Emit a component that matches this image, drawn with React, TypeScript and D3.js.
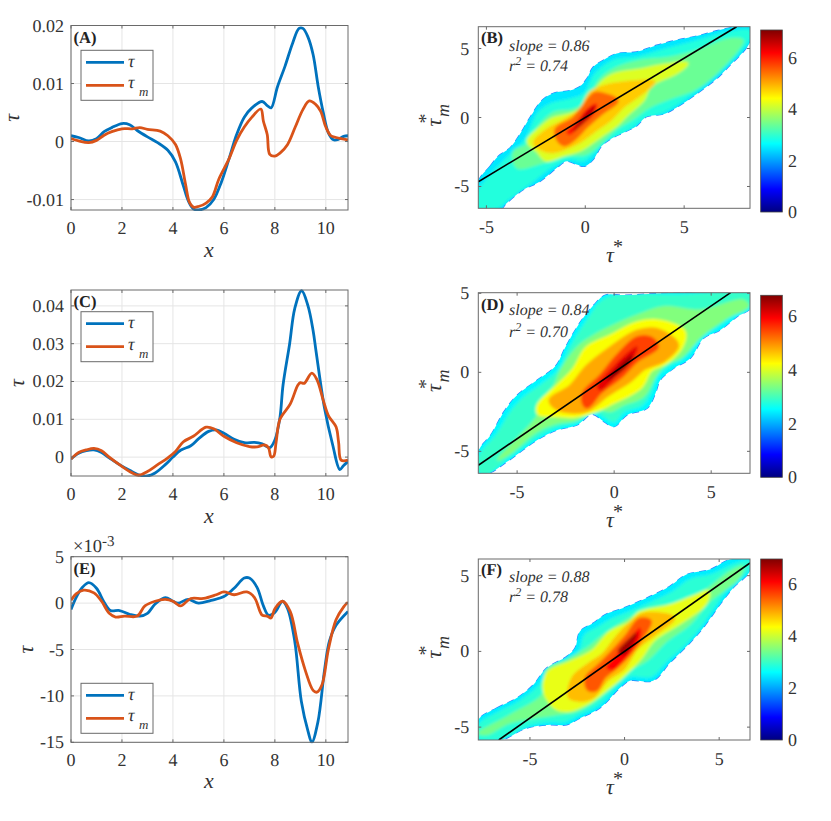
import React from "react";
import * as d3 from "d3";

type Pt = [number, number];

// line panels, values
const tauA: Pt[] = [[0,.001],[.3,.0007],[.7,.0001],[1,.0005],[1.3,.0017],[1.6,.0024],[2,.0031],[2.3,.0029],[2.6,.0019],[3,.0008],[3.4,-.0002],[3.8,-.0015],[4.1,-.0035],[4.4,-.0075],[4.6,-.0102],[4.8,-.0116],[5,-.0118],[5.3,-.0114],[5.6,-.01],[5.9,-.007],[6.2,-.003],[6.5,.0012],[6.8,.0042],[7.1,.0058],[7.5,.0069],[7.7,.0062],[7.85,.0058],[8.1,.0094],[8.4,.013],[8.7,.017],[8.95,.0195],[9.1,.0195],[9.3,.018],[9.5,.015],[9.7,.0095],[9.9,.005],[10.1,.0015],[10.3,.0003],[10.5,.0004],[10.7,.0009],[10.87,.001]];
const tauMA: Pt[] = [[0,.0005],[.3,.0001],[.7,-.0002],[1,.0002],[1.3,.0011],[1.6,.0017],[2,.0022],[2.4,.0022],[2.7,.0024],[3,.0021],[3.5,.0018],[3.8,.001],[4.1,-.0005],[4.3,-.003],[4.5,-.0075],[4.65,-.0105],[4.8,-.0113],[5,-.0112],[5.3,-.0106],[5.55,-.0095],[5.8,-.0065],[6.2,-.003],[6.5,.0002],[6.8,.0025],[7.1,.0042],[7.45,.0056],[7.55,.0035],[7.7,.0012],[7.8,-.0022],[8,-.0025],[8.2,-.002],[8.5,-.0005],[8.8,.0025],[9.1,.0055],[9.35,.007],[9.6,.0064],[9.8,.0052],[10,.0025],[10.2,.001],[10.4,.0007],[10.6,.0005],[10.87,.0003]];
const tauC: Pt[] = [[0,-.0005],[.3,.001],[.6,.0017],[.9,.0019],[1.2,.0012],[1.5,-.0002],[1.9,-.002],[2.3,-.0035],[2.7,-.0048],[3,-.005],[3.3,-.0042],[3.7,-.002],[4,0],[4.3,.0018],[4.7,.003],[5,.0048],[5.4,.0068],[5.7,.0072],[6,.0063],[6.4,.0047],[6.8,.0038],[7.2,.0039],[7.5,.0035],[7.8,.0025],[8,.0045],[8.2,.0105],[8.32,.019],[8.58,.03],[8.78,.0393],[9.05,.044],[9.3,.04],[9.5,.0335],[9.62,.0278],[9.95,.0129],[10.27,.0032],[10.55,-.0033],[10.7,-.0022],[10.87,-.0012]];
const tauMC: Pt[] = [[0,-.0005],[.3,.0012],[.6,.0019],[.9,.0023],[1.2,.0017],[1.5,0],[1.9,-.002],[2.3,-.0038],[2.65,-.0048],[3,-.0038],[3.4,-.002],[3.8,-.0002],[4.1,.0015],[4.4,.004],[4.8,.0055],[5.3,.0079],[5.6,.0075],[6,.0055],[6.5,.0038],[7,.0028],[7.3,.0027],[7.6,.0032],[7.75,.0025],[7.85,.0001],[7.95,.0002],[8.05,.004],[8.2,.01],[8.6,.014],[8.9,.019],[9,.0197],[9.15,.0195],[9.45,.0222],[9.65,.0205],[9.9,.015],[10.1,.011],[10.4,.008],[10.5,.004],[10.6,-.0008],[10.87,-.0008]];
const tauE: Pt[] = [[0,-.7],[.2,.6],[.45,1.7],[.7,2.2],[1,1.6],[1.3,.1],[1.55,-.8],[1.9,-.8],[2.3,-1.2],[2.7,-1.4],[3,-1.1],[3.3,-.1],[3.7,.6],[4,.2],[4.2,0],[4.6,.4],[5,0],[5.5,.3],[6,.7],[6.4,1.6],[6.8,2.7],[7,2.7],[7.3,1.7],[7.55,-.3],[7.75,-1.3],[8,-1],[8.3,.2],[8.5,-.6],[8.78,-4.1],[9.04,-10.6],[9.3,-13.8],[9.45,-15],[9.69,-12.8],[9.95,-7.2],[10.14,-4.1],[10.4,-2.4],[10.87,-.9]];
const tauME: Pt[] = [[0,.3],[.2,1],[.5,1.4],[.9,1.1],[1.2,.2],[1.5,-1.1],[1.75,-1.5],[2.1,-1.4],[2.6,-1.4],[2.9,-.3],[3.3,.2],[3.7,.4],[4,.2],[4.3,-.3],[4.7,.5],[5.2,.5],[5.7,.9],[6,1.2],[6.4,.9],[6.9,1.2],[7.2,.6],[7.5,-1.3],[7.7,-1.4],[7.85,-1.6],[8,-.6],[8.3,.2],[8.6,-.9],[8.9,-4.4],[9.2,-7.3],[9.5,-9.4],[9.65,-9.6],[9.85,-8.8],[10.1,-5],[10.4,-1.8],[10.7,-.4],[10.87,.1]];

const xTicks = [0, 2, 4, 6, 8, 10];
const yTicksA = [0.02, 0.01, 0, -0.01];
const yLabelsA = ["0.02", "0.01", "0", "-0.01"];
const yTicksC = [0.04, 0.03, 0.02, 0.01, 0];
const yLabelsC = ["0.04", "0.03", "0.02", "0.01", "0"];
const yTicksE = [5, 0, -5, -10, -15];
const yLabelsE = ["5", "0", "-5", "-10", "-15"];

// density panels: level outlines, lowest level first
const levels = [2.5, 2.9, 3.4, 4.2, 4.8, 5.5, 6.1, 6.7];

const contoursB: Pt[][] = [
  [[-5.41,-4.63],[-4.82,-3.54],[-4.4,-2.8],[-3.81,-2.2],[-3.31,-1.22],[-2.8,0],[-2.21,1.22],[-1.62,1.76],[-.78,1.95],[-.27,2.24],[.07,2.8],[.4,3.66],[.91,4.15],[1.59,4.63],[2.6,4.76],[3.61,5.24],[4.62,5.61],[5.63,5.9],[6.64,6.29],[7.66,6.59],[8.33,6.59],[8.33,5.49],[7.99,4.76],[7.32,3.78],[6.64,2.8],[5.63,1.71],[4.62,.73],[3.95,.24],[3.1,.05],[2.6,-.61],[1.92,-1.1],[1.25,-1.59],[.83,-2.07],[.4,-3.05],[-.02,-3.54],[-.44,-3.41],[-.94,-3.17],[-1.45,-3.66],[-2.29,-4.63],[-3.14,-5.24],[-3.98,-6.22],[-4.32,-6.7],[-5.41,-6.7]],
  [[-5.41,-5.37],[-4.65,-3.9],[-3.81,-2.68],[-3.05,-1.59],[-2.38,.37],[-1.79,.98],[-.78,1.34],[-.1,1.71],[.49,3.17],[1.42,4.15],[2.6,4.39],[3.95,4.93],[5.63,5.56],[7.32,6.22],[8.33,6.29],[8.33,5.73],[7.32,4.02],[6.31,2.68],[5.3,1.59],[4.11,.49],[2.93,-.12],[2.09,-.98],[1.08,-1.71],[.57,-2.44],[-.1,-3.17],[-.78,-3.05],[-1.62,-3.54],[-2.63,-4.63],[-3.81,-5.85],[-4.49,-6.59],[-5.41,-6.59]],
  [[-3.47,-3.66],[-3.64,-2.44],[-2.97,-1.95],[-2.38,-.61],[-1.62,.37],[-.61,.61],[.15,1.22],[.66,2.68],[1.42,3.54],[2.77,4.15],[4.28,4.39],[5.63,4.88],[7.32,5.73],[7.99,5.61],[6.81,3.41],[5.63,2.07],[4.28,1.34],[3.27,.73],[2.43,-.12],[1.59,-.85],[.83,-1.83],[.07,-2.68],[-.94,-2.8],[-2.12,-3.29]],
  [[-1.96,-3.05],[-2.38,-2.44],[-2.88,-1.71],[-2.21,-.73],[-1.62,-.12],[-.61,.24],[.24,.98],[.74,2.32],[1.42,3.05],[2.77,3.41],[4.11,3.78],[5.13,3.9],[4.62,3.29],[3.27,2.32],[2.93,1.34],[2.09,.24],[1.59,-.49],[.74,-1.34],[-.27,-2.32],[-1.11,-2.68]],
  [[-2.55,-1.83],[-1.96,-.98],[-1.03,-.24],[-.27,.49],[.32,1.83],[1.25,2.32],[2.6,2.56],[3.44,2.56],[2.77,1.71],[1.92,.85],[1.25,-.12],[.4,-.98],[-.44,-1.83],[-1.62,-2.44],[-2.12,-2.32]],
  [[-1.37,-1.59],[-1.45,-.85],[-.61,-.12],[-.1,.73],[.49,1.71],[1.08,1.59],[1.59,1.22],[.74,.24],[.07,-.61],[-.61,-1.59],[-1.03,-1.95]],
  [[-.94,-1.1],[-.44,-.37],[.07,.61],[.57,.98],[.4,.24],[-.27,-.61],[-.78,-1.22]],
  [[-.61,-.98],[-.02,.24],[.49,.85],[.24,.12],[-.35,-.73]],
];

const contoursD: Pt[][] = [
  [[-6.96,-4.92],[-6.36,-3.97],[-5.68,-2.49],[-4.99,-1.43],[-3.96,-.49],[-3.02,.4],[-2.5,1.62],[-1.73,3.21],[-1.05,4.26],[-.45,4.89],[.5,4.89],[3.24,5.04],[7.02,5.04],[7.02,4.05],[6.33,3.52],[5.47,2.68],[4.61,2.15],[3.93,.89],[3.07,.25],[2.38,-.49],[2.13,-1.33],[1.7,-2.28],[.67,-2.7],[0,-3.44],[-.53,-3.12],[-1.13,-2.66],[-1.9,-3.33],[-2.93,-3.65],[-3.96,-4.28],[-5.51,-5.65],[-6.45,-6.39],[-6.96,-6.39]],
  [[-6.96,-5.34],[-6.02,-3.86],[-5.33,-2.49],[-4.73,-1.65],[-3.79,-.8],[-2.85,.15],[-2.25,1.62],[-1.39,3.31],[-.7,4.47],[-.19,4.79],[3.24,4.89],[7.02,4.89],[7.02,4.26],[6.16,3.63],[5.3,2.89],[4.44,2.26],[3.67,.99],[2.9,.46],[2.21,-.27],[1.87,-1.33],[1.44,-2.07],[.5,-2.49],[0,-3.12],[-1.05,-2.49],[-1.9,-3.12],[-2.93,-3.44],[-3.96,-4.07],[-5.51,-5.44],[-6.51,-6.39],[-6.96,-6.29]],
  [[-6.02,-5.55],[-3.96,-2.7],[-3.88,-2.07],[-3.1,-.8],[-2.76,.15],[-1.9,1.62],[-1.05,2.36],[.15,3.1],[1.18,3.63],[2.56,4.16],[4.44,3.95],[6.67,4.58],[6.93,4.16],[5.81,3.42],[4.61,2.36],[3.41,.89],[2.73,.57],[2.13,-.27],[1.53,-1.54],[.5,-2.07],[-.19,-2.49],[-1.05,-2.28],[-1.9,-3.02],[-2.93,-3.23],[-3.96,-3.76],[-5.33,-5.13]],
  [[-3.88,-2.59],[-3.88,-2.07],[-2.93,-.91],[-2.08,.15],[-1.39,1.52],[-.19,2.26],[1.18,3.1],[2.38,3.21],[3.58,2.57],[3.5,1.73],[2.73,.68],[1.87,.15],[1.36,-.91],[-.19,-1.96],[-1.13,-2.49],[-2.08,-2.76],[-3.1,-2.7]],
  [[-3.28,-1.75],[-2.25,-.91],[-1.39,.36],[-.19,1.52],[1.18,2.57],[2.21,2.68],[3.24,1.73],[2.56,.78],[1.53,.25],[.84,-.49],[-.36,-1.43],[-1.39,-2.38],[-2.08,-2.49],[-2.93,-2.28]],
  [[-1.56,-1.96],[-1.56,-1.33],[-.7,-.27],[.15,.99],[1.18,2.15],[1.87,2.15],[2.21,1.62],[1.18,.78],[.33,-.27],[-.7,-1.22],[-1.39,-2.17]],
  [[-.87,-.91],[-.19,.15],[.67,1.2],[1.18,1.62],[.93,.78],[.15,-.17],[-.7,-1.12]],
  [[-.36,-.49],[.33,.46],[.93,1.1],[.67,.46],[-.02,-.27]],
];

const contoursF: Pt[][] = [
  [[-7.73,-4.52],[-6.76,-3.74],[-5.7,-3.08],[-4.82,-2.2],[-4.12,-1.1],[-3.06,-.33],[-2.62,.22],[-2.36,1.32],[-1.65,1.87],[-1.04,2.42],[-.07,2.86],[1.34,3.63],[2.39,4.3],[3.27,5.07],[4.51,5.4],[5.56,6.06],[6.62,6.12],[6.62,5.29],[5.74,4.19],[5.04,3.08],[4.15,1.54],[3.45,.55],[2.39,-.77],[1.51,-1.94],[.28,-1.94],[-.25,-2.42],[-1.3,-3.74],[-2.36,-4.41],[-3.06,-4.85],[-3.94,-4.85],[-5.18,-5.07],[-6.5,-5.84],[-7.73,-5.84]],
  [[-7.73,-4.85],[-6.76,-4.07],[-5.7,-3.41],[-4.65,-2.42],[-3.94,-1.32],[-2.89,-.55],[-2.36,.11],[-2.1,1.1],[-1.48,1.54],[-.77,2.09],[.11,2.53],[1.51,3.3],[2.57,3.96],[3.45,4.74],[4.6,5.07],[5.74,5.73],[6.62,5.95],[6.62,5.51],[5.48,4.19],[4.77,2.97],[3.89,1.43],[3.19,.44],[2.22,-.66],[1.43,-1.65],[.28,-1.65],[-.33,-2.2],[-1.39,-3.52],[-2.45,-4.19],[-3.15,-4.63],[-3.94,-4.63],[-5.26,-4.96],[-6.41,-5.73],[-7.73,-5.73]],
  [[-7.73,-5.4],[-6.06,-4.19],[-4.3,-2.75],[-4.12,-1.21],[-3.06,-.55],[-2.01,.22],[-1.13,1.1],[.11,2.09],[1.34,2.86],[2.75,3.19],[4.15,3.96],[5.56,5.29],[6.27,5.62],[6.09,4.85],[4.51,3.3],[3.45,1.76],[2.22,.66],[1.25,-.55],[.19,-1.32],[-.42,-1.98],[-1.48,-3.19],[-2.54,-3.96],[-3.59,-4.19],[-6.06,-4.74],[-7.29,-5.51]],
  [[-3.59,-3.74],[-4.21,-2.64],[-4.03,-1.43],[-2.89,-.77],[-1.65,0],[-.77,1.21],[.28,1.87],[.81,2.53],[2.2,2.9],[3.6,3.55],[4.4,3.9],[4.2,3.1],[2.9,1.9],[1.51,.77],[.81,-.44],[-.25,-1.76],[-1.13,-2.64],[-2.01,-3.41],[-2.89,-3.85]],
  [[-2.9,-3],[-2.7,-1.75],[-1.9,-.9],[-1.1,-.2],[-.42,.88],[.46,1.98],[.99,2.42],[2.04,2.42],[2.57,2.2],[1.51,1.1],[.63,.22],[-.07,-1.1],[-.95,-1.87],[-1.7,-3],[-2.4,-3.2]],
  [[-1.9,-2.5],[-2.0,-1.75],[-1.3,-.9],[-.6,0],[.11,.99],[.81,2.09],[1.34,1.98],[.99,1.1],[.28,-.11],[-.42,-.99],[-1.1,-1.7],[-1.5,-2.5]],
  [[-.95,-1.1],[-.33,-.11],[.19,.66],[.81,1.54],[.81,.88],[.28,-.11],[-.07,-.66],[-.6,-1.21]],
  [[-.33,0],[.19,.77],[.63,1.21],[.46,.55],[-.07,-.22]],
];

const densityTicks = [-5, 0, 5];
const colorTicks = [0, 2, 4, 6];

const serif = "Liberation Serif, serif";
const textColor = "#333";
const boxColor = "#6a6a6a";

// MATLAB jet
const jetStops = [0, 0.125, 0.375, 0.625, 0.875, 1];
const jetColors = ["#000080", "#0000ff", "#00ffff", "#ffff00", "#ff0000", "#800000"];
const jet = (cmax: number) =>
  d3.scaleLinear<string>().domain(jetStops.map((s) => s * cmax)).range(jetColors).clamp(true);

const Tau = ({ x, y, size = 22, rotate = 0 }: any) => (
  <text transform={`translate(${x},${y}) rotate(${rotate})`} fontFamily={serif} fontStyle="italic" fontSize={size} fill={textColor} textAnchor="middle">τ</text>
);

interface LineProps {
  label: string; tau: Pt[]; tauM: Pt[];
  yDomain: [number, number]; top: number; bottom: number;
  yTicks: number[]; yLabels: string[];
  legendY: number; ylabelX: number; labelDy: number; xlabelY: number;
}

const LinePanel = ({ label, tau, tauM, yDomain, top, bottom, yTicks, yLabels, legendY, ylabelX, labelDy, xlabelY }: LineProps) => {
  const left = 71, right = 348;
  const x = d3.scaleLinear().domain([0, 10.87]).range([left, right]);
  const y = d3.scaleLinear().domain(yDomain).range([bottom, top]);
  const line = d3.line<Pt>().x((d) => x(d[0])).y((d) => y(d[1])).curve(d3.curveCatmullRom.alpha(0.5));
  const clip = `clip-${label}`;
  const mid = (top + bottom) / 2;
  return (
    <g>
      <clipPath id={clip}><rect x={left} y={top - 1} width={right - left} height={bottom - top + 2} /></clipPath>
      {xTicks.map((t) => <line key={t} x1={x(t)} x2={x(t)} y1={top} y2={bottom} stroke="#e5e5e5" />)}
      {yTicks.map((t) => <line key={t} x1={left} x2={right} y1={y(t)} y2={y(t)} stroke="#e5e5e5" />)}
      <g clipPath={`url(#${clip})`}>
        <path d={line(tau) || ""} fill="none" stroke="#0072bd" strokeWidth={2.8} />
        <path d={line(tauM) || ""} fill="none" stroke="#d95319" strokeWidth={2.8} />
      </g>
      <rect x={left} y={top} width={right - left} height={bottom - top} fill="none" stroke={boxColor} strokeWidth={1} />
      {xTicks.map((t) => (
        <g key={t}>
          <line x1={x(t)} x2={x(t)} y1={bottom} y2={bottom - 3} stroke={boxColor} />
          <line x1={x(t)} x2={x(t)} y1={top} y2={top + 3} stroke={boxColor} />
          <text x={x(t)} y={bottom + 24} textAnchor="middle" fontFamily={serif} fontSize={18} fill={textColor}>{t}</text>
        </g>
      ))}
      {yTicks.map((t, i) => (
        <g key={t}>
          <line x1={left} x2={left + 3} y1={y(t)} y2={y(t)} stroke={boxColor} />
          <line x1={right} x2={right - 3} y1={y(t)} y2={y(t)} stroke={boxColor} />
          <text x={left - 7} y={y(t) + 6} textAnchor="end" fontFamily={serif} fontSize={18} fill={textColor}>{yLabels[i]}</text>
        </g>
      ))}
      <text x={209} y={xlabelY} textAnchor="middle" fontFamily={serif} fontStyle="italic" fontSize={22} fill={textColor}>x</text>
      <Tau x={ylabelX} y={mid} rotate={-90} />
      <text x={73.5} y={top + labelDy} fontFamily={serif} fontWeight="bold" fontSize={16.5} fill="#222">({label})</text>
      <g transform={`translate(81,${legendY})`}>
        <rect width={72} height={50} fill="#fff" stroke={boxColor} />
        <line x1={5} x2={43} y1={12} y2={12} stroke="#0072bd" strokeWidth={2.8} />
        <line x1={5} x2={43} y1={35} y2={35} stroke="#d95319" strokeWidth={2.8} />
        <text x={47} y={16.5} fontFamily={serif} fontStyle="italic" fontSize={18} fill={textColor}>τ</text>
        <text x={47} y={38} fontFamily={serif} fontStyle="italic" fontSize={18} fill={textColor}>τ</text>
        <text x={58} y={46} fontFamily={serif} fontStyle="italic" fontSize={13} fill={textColor}>m</text>
      </g>
    </g>
  );
};

interface DensityProps {
  label: string; contours: Pt[][]; xDomain: [number, number]; yDomain: [number, number];
  top: number; bottom: number; slope: number; slopeText: string; r2Text: string;
  cmax: number; cbTop: number; cbBottom: number; labelY: number; slopeY: number; r2Y: number;
}

const DensityPanel = ({ label, contours, xDomain, yDomain, top, bottom, slope, slopeText, r2Text, cmax, cbTop, cbBottom, labelY, slopeY, r2Y }: DensityProps) => {
  const left = 478.3, right = 750;
  const x = d3.scaleLinear().domain(xDomain).range([left, right]);
  const y = d3.scaleLinear().domain(yDomain).range([bottom, top]);
  const color = jet(cmax);
  const outline = d3.line<Pt>().x((d) => x(d[0])).y((d) => y(d[1])).curve(d3.curveCatmullRomClosed.alpha(0.5));
  const fx0 = Math.max(xDomain[0], yDomain[0] / slope);
  const fx1 = Math.min(xDomain[1], yDomain[1] / slope);
  const cb = d3.scaleLinear().domain([0, cmax]).range([cbBottom, cbTop]);
  const cbX = 760.7, cbW = 21.6;
  const mid = (top + bottom) / 2;
  return (
    <g>
      <defs>
        <clipPath id={`axes-${label}`}><rect x={left} y={top} width={right - left} height={bottom - top} /></clipPath>
        <clipPath id={`shape-${label}`}><path d={outline(contours[0]) || ""} /></clipPath>
        <filter id={`blur-${label}`} filterUnits="userSpaceOnUse" x={left - 20} y={top - 20} width={right - left + 40} height={bottom - top + 40}>
          <feGaussianBlur stdDeviation={1.8} />
        </filter>
        <linearGradient id={`cb-${label}`} x1="0" y1="1" x2="0" y2="0">
          {jetStops.map((s, i) => <stop key={s} offset={s} stopColor={jetColors[i]} />)}
        </linearGradient>
      </defs>
      <g clipPath={`url(#axes-${label})`}>
        <path d={outline(contours[0]) || ""} fill="none" stroke="#2f7dff" strokeWidth={1.2} strokeDasharray="7 5" />
        <g clipPath={`url(#shape-${label})`}>
          <g filter={`url(#blur-${label})`}>
            <path d={outline(contours[0]) || ""} fill={color(levels[0])} stroke={color(levels[0])} strokeWidth={10} />
            {contours.slice(1).map((c, i) => (
              <path key={i} d={outline(c) || ""} fill={color(levels[i + 1])} stroke={color(levels[i + 1])} strokeWidth={i > 1 && i < 5 ? 4 : 1} strokeLinejoin="round" />
            ))}
          </g>
        </g>
        <line x1={x(fx0)} y1={y(fx0 * slope)} x2={x(fx1)} y2={y(fx1 * slope)} stroke="#000" strokeWidth={1.6} />
      </g>
      <rect x={left} y={top} width={right - left} height={bottom - top} fill="none" stroke={boxColor} />
      {densityTicks.map((t) => (
        <g key={t}>
          <line x1={x(t)} x2={x(t)} y1={bottom} y2={bottom - 3} stroke={boxColor} />
          <line x1={x(t)} x2={x(t)} y1={top} y2={top + 3} stroke={boxColor} />
          <text x={x(t)} y={bottom + 24.5} textAnchor="middle" fontFamily={serif} fontSize={18} fill={textColor}>{t}</text>
        </g>
      ))}
      {densityTicks.map((t) => (
        <g key={t}>
          <line x1={left} x2={left + 3} y1={y(t)} y2={y(t)} stroke={boxColor} />
          <line x1={right} x2={right - 3} y1={y(t)} y2={y(t)} stroke={boxColor} />
          <text x={left - 9} y={y(t) + 6} textAnchor="end" fontFamily={serif} fontSize={18} fill={textColor}>{t}</text>
        </g>
      ))}
      <text x={481} y={labelY} fontFamily={serif} fontWeight="bold" fontSize={16.5} fill="#222">({label})</text>
      <text x={509} y={slopeY} fontFamily={serif} fontStyle="italic" fontSize={16} fill={textColor}>{slopeText}</text>
      <text x={509} y={r2Y} fontFamily={serif} fontStyle="italic" fontSize={16} fill={textColor}>r<tspan dy={-6} fontSize={12}>2</tspan><tspan dy={6}>{` = ${r2Text}`}</tspan></text>
      <Tau x={610} y={bottom + 54} />
      <text x={618} y={bottom + 45} textAnchor="middle" fontFamily={serif} fontSize={20} fill={textColor}>*</text>
      <g transform={`translate(441,${mid + 5})`}>
        <g transform="rotate(-90)">
          <text x={0} y={0} textAnchor="middle" fontFamily={serif} fontStyle="italic" fontSize={22} fill={textColor}>τ</text>
          <text x={4} y={-9} textAnchor="middle" fontFamily={serif} fontSize={20} fill={textColor}>*</text>
          <text x={12} y={8} textAnchor="middle" fontFamily={serif} fontStyle="italic" fontSize={18} fill={textColor}>m</text>
        </g>
      </g>
      <rect x={cbX} y={cbTop} width={cbW} height={cbBottom - cbTop} fill={`url(#cb-${label})`} stroke="#444" strokeWidth={0.8} />
      {colorTicks.map((t) => (
        <text key={t} x={788} y={cb(t) + 6} fontFamily={serif} fontSize={18} fill={textColor}>{t}</text>
      ))}
    </g>
  );
};

export default function App() {
  return (
    <svg width={831} height={821} textRendering="geometricPrecision" style={{ position: "absolute", left: 0, top: 0, background: "#fff" }}>
      <LinePanel label="A" tau={tauA} tauM={tauMA} yDomain={[-0.0118, 0.02]} top={25.5} bottom={210} yTicks={yTicksA} yLabels={yLabelsA} legendY={50.3} ylabelX={19} labelDy={17.5} xlabelY={257} />
      <LinePanel label="C" tau={tauC} tauM={tauMC} yDomain={[-0.005, 0.0442]} top={290} bottom={476} yTicks={yTicksC} yLabels={yLabelsC} legendY={311.7} ylabelX={24} labelDy={17} xlabelY={523} />
      <LinePanel label="E" tau={tauE} tauM={tauME} yDomain={[-15, 5]} top={556.7} bottom={742.3} yTicks={yTicksE} yLabels={yLabelsE} legendY={683.3} ylabelX={33} labelDy={17.5} xlabelY={788} />
      <text x={73} y={552} fontFamily={serif} fontSize={18.5} fill={textColor}>×10<tspan dy={-6} fontSize={15}>-3</tspan></text>
      <DensityPanel label="B" contours={contoursB} xDomain={[-5.41, 8.33]} yDomain={[-6.58, 6.58]} top={26.7} bottom={208.3} slope={0.86} slopeText="slope = 0.86" r2Text="0.74" cmax={7.1} cbTop={30} cbBottom={212} labelY={43} slopeY={51} r2Y={70.7} />
      <DensityPanel label="D" contours={contoursD} xDomain={[-7, 7]} yDomain={[-6.39, 5.04]} top={292.7} bottom={473.3} slope={0.84} slopeText="slope = 0.84" r2Text="0.70" cmax={6.77} cbTop={295.3} cbBottom={477.3} labelY={310} slopeY={315} r2Y={336.7} />
      <DensityPanel label="F" contours={contoursF} xDomain={[-7.73, 6.63]} yDomain={[-5.85, 6.1]} top={559} bottom={740} slope={0.88} slopeText="slope = 0.88" r2Text="0.78" cmax={6.96} cbTop={559} cbBottom={740} labelY={575} slopeY={581.7} r2Y={602.3} />
    </svg>
  );
}
